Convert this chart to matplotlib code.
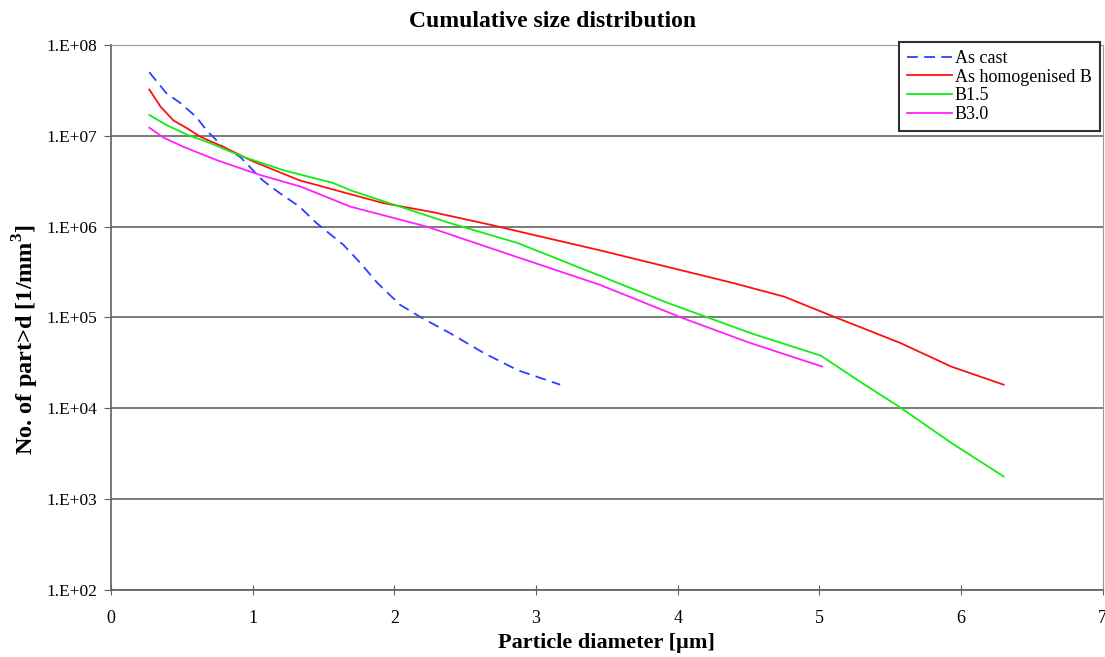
import numpy as np
import matplotlib
matplotlib.use("Agg")
import matplotlib.pyplot as plt
from matplotlib.ticker import FixedLocator, FixedFormatter

# Cumulative number of particles larger than d, per mm^3
cast_d = [0.27, 0.39, 0.49, 0.60, 0.68, 0.79, 0.91, 1.07, 1.19, 1.33, 1.45,
          1.64, 1.76, 1.88, 2.04, 2.20, 2.39, 2.63, 2.87, 3.17]
cast_log = [7.70, 7.47, 7.36, 7.21, 7.05, 6.88, 6.77, 6.51, 6.37, 6.22, 6.04,
            5.80, 5.60, 5.38, 5.14, 4.99, 4.83, 4.61, 4.42, 4.26]

homog_d = [0.27, 0.35, 0.44, 0.54, 0.63, 0.79, 1.00, 1.33, 1.92, 2.27, 2.68,
           2.98, 3.45, 3.92, 4.39, 4.75, 5.10, 5.57, 5.93, 6.30]
homog_log = [7.51, 7.32, 7.17, 7.08, 6.99, 6.88, 6.72, 6.51, 6.26, 6.16, 6.02,
             5.91, 5.74, 5.56, 5.38, 5.23, 5.01, 4.72, 4.46, 4.26]

b15_d = [0.27, 0.39, 0.54, 0.70, 0.93, 1.22, 1.57, 1.69, 2.39, 2.87, 3.45,
         3.93, 4.23, 4.51, 5.01, 5.27, 5.57, 5.93, 6.30]
b15_log = [7.23, 7.12, 7.01, 6.92, 6.77, 6.62, 6.48, 6.40, 6.04, 5.82, 5.46,
           5.16, 4.99, 4.83, 4.58, 4.31, 4.01, 3.62, 3.25]

b30_d = [0.27, 0.37, 0.51, 0.75, 1.05, 1.34, 1.69, 2.23, 2.80, 3.45, 4.04,
         4.51, 5.02]
b30_log = [7.09, 6.98, 6.88, 6.73, 6.57, 6.44, 6.22, 6.00, 5.70, 5.36, 4.99,
           4.72, 4.46]

labels = ["As cast", "As homogenised B", "B1.5", "B3.0"]
ytick_labels = ["1.E+02", "1.E+03", "1.E+04", "1.E+05", "1.E+06", "1.E+07", "1.E+08"]

plt.rcParams['font.family'] = ['Liberation Serif', 'DejaVu Serif']

fig = plt.figure(figsize=(11.05, 6.57), dpi=100)
ax = fig.add_axes([0.1005, 0.102, 0.8975, 0.8295])

ax.plot(cast_d, 10 ** np.array(cast_log), color='#2f3fff', lw=1.3,
        dashes=(6, 3.5), label=labels[0])
ax.plot(homog_d, 10 ** np.array(homog_log), color='#ff1010', lw=1.3, label=labels[1])
ax.plot(b15_d, 10 ** np.array(b15_log), color='#10ee10', lw=1.3, label=labels[2])
ax.plot(b30_d, 10 ** np.array(b30_log), color='#ff20ff', lw=1.3, label=labels[3])

ax.set_yscale('log')
ax.set_xlim(0, 7)
ax.set_ylim(1e2, 1e8)
ax.yaxis.set_major_locator(FixedLocator([10.0 ** k for k in range(2, 9)]))
ax.yaxis.set_major_formatter(FixedFormatter(ytick_labels))
ax.yaxis.set_minor_locator(FixedLocator([]))
ax.set_xticks(range(8))

ax.grid(axis='y', color='#7a7a7a', lw=1.4)
ax.set_axisbelow(True)
for side in ['top', 'right']:
    ax.spines[side].set_color('#9a9a9a')
for side in ['left', 'bottom']:
    ax.spines[side].set_color('#606060')
    ax.spines[side].set_linewidth(1.2)

ax.tick_params(axis='y', direction='out', length=5, labelsize=12.5, color='#606060', pad=5)
ax.tick_params(axis='x', direction='inout', length=7, labelsize=13, color='#606060', pad=11)

fig.suptitle("Cumulative size distribution", x=0.5, y=0.968, va='center',
             fontsize=17, fontweight='bold')
ax.set_xlabel("Particle diameter [\u00b5m]", fontsize=16, fontweight='bold', labelpad=4)
ax.set_ylabel("No. of part>d [1/mm$^\\mathregular{3}$]", fontsize=17.5, fontweight='bold')
ax.yaxis.set_label_coords(-0.071, 0.459)

leg = ax.legend(loc='upper right', bbox_to_anchor=(0.997, 1.006), fontsize=13,
                handlelength=2.5, handletextpad=0.15, borderaxespad=0.0,
                labelspacing=0.1, fancybox=False, framealpha=1.0,
                borderpad=0.45)
leg.get_frame().set_edgecolor('#303030')
leg.get_frame().set_linewidth(1.5)

fig.savefig("out.png", dpi=100)
